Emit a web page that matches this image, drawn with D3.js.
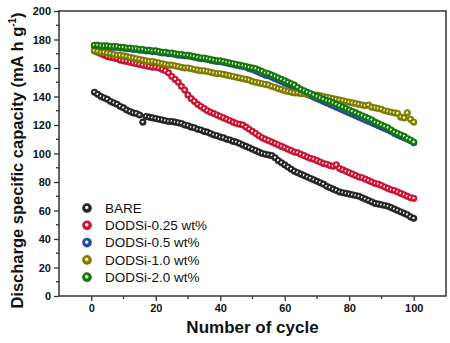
<!DOCTYPE html>
<html>
<head>
<meta charset="utf-8">
<script src="https://cdn.jsdelivr.net/npm/d3@7"></script>
<style>
  body { margin: 0; background: #fff; }
  svg { display: block; font-family: "Liberation Sans", Arial, sans-serif; }
</style>
</head>
<body>
<svg></svg>
<script>
const seriesNames = ["BARE", "DODSi-0.25 wt%", "DODSi-0.5 wt%", "DODSi-1.0 wt%", "DODSi-2.0 wt%"];
const seriesColors = ["#2b2b2b", "#e5163b", "#2453b3", "#918d00", "#18880f"];

// discharge capacity for cycles 1..100
const bare = [
  143, 141.5, 140, 139, 138, 136.5, 135.5, 134.5, 133, 132,
  130.5, 129.5, 128.5, 128, 127, 122, 126, 125.5, 125, 124.5,
  124, 123.5, 123, 122.5, 122.5, 122, 121.5, 121, 120, 119.5,
  118.5, 118, 117, 116.5, 115.5, 115, 114, 113, 112.5, 111.5,
  111, 110, 109.5, 108.5, 108, 107, 106, 105, 104, 103,
  102, 101, 100, 99.5, 99, 98.5, 97, 95, 93.5, 92,
  90.5, 89, 87.5, 86.5, 85.5, 84.5, 83.5, 82.5, 81.5, 80.5,
  79.5, 78.5, 77, 76, 75, 74, 73, 72.5, 72, 71.5,
  71, 70.5, 70, 69, 68, 67, 66, 65, 64.5, 64,
  63.5, 63, 62, 61, 60, 59, 58, 57, 55.5, 54.5
];
const dodsi025 = [
  172, 171, 170, 169, 168, 167.5, 167, 166.5, 165.5, 165,
  164.5, 164, 163.5, 163, 162.5, 162, 161.5, 161, 160.5, 160.5,
  160, 159, 158, 156.5, 154, 152, 150, 147, 144.5, 141,
  138.5, 136.5, 134.5, 133, 131.5, 130, 129, 128, 127, 126,
  125, 124, 123, 122, 121, 120.5, 120, 118.5, 117, 115.5,
  114, 112.5, 111, 110, 109, 108, 107, 106, 105, 104,
  103, 102, 101, 100.5, 99.5, 98.5, 97.5, 96.5, 96, 95,
  94, 93, 92.5, 91.5, 91, 92, 89.5, 88.5, 87.5, 86.5,
  85.5, 84.5, 83.5, 83, 82, 81, 80, 79, 78.5, 77.5,
  76.5, 75.5, 74.5, 74, 73, 72, 71, 70, 69, 68.5
];
const dodsi05 = [
  175.5, 175.5, 175, 175, 175, 174.5, 174.5, 174.5, 174, 174,
  173.5, 173.5, 173, 173, 172.5, 172.5, 172, 172, 171.5, 171.5,
  171, 170.5, 170.5, 170, 170, 169.5, 169, 169, 168.5, 168.5,
  168, 167.5, 167, 166.5, 166.5, 166, 165.5, 165, 164.5, 164.5,
  164, 163.5, 163, 162.5, 162, 161.5, 161, 160.5, 159.5, 159,
  158, 157, 156, 155, 154.5, 153.5, 152.5, 151.5, 150.5, 149.5,
  148.5, 147.5, 146.5, 145, 143.5, 142.5, 141.5, 140.5, 139.5, 138.5,
  137.5, 136.5, 135.5, 134.5, 133.5, 132.5, 131.5, 130.5, 129.5, 128.5,
  127.5, 126.5, 125.5, 124.5, 123.5, 122.5, 121.5, 120.5, 119.5, 118.5,
  117.5, 116.5, 115.5, 114, 113, 112, 111, 110, 109, 107.5
];
const dodsi10 = [
  172, 171.5, 171, 171, 170.5, 170, 169.5, 169, 169, 168.5,
  168, 167.5, 167, 166.5, 166, 165.5, 165, 164.5, 164.5, 164,
  163.5, 163, 162.5, 162, 162, 161.5, 161, 160.5, 160, 160,
  159.5, 159, 158.5, 158, 158, 157.5, 157, 156.5, 156, 156,
  155.5, 155, 154.5, 154, 153.5, 153, 152.5, 152, 151.5, 150.5,
  150, 149.5, 149, 148.5, 148, 147, 146.5, 145.5, 145, 144,
  143.5, 143, 142.5, 142.5, 142, 142, 141.5, 141.5, 141, 141,
  140.5, 140, 139.5, 139, 138.5, 138, 137.5, 137, 136.5, 136,
  135.5, 135, 134.5, 134, 133.5, 134, 132.5, 132, 131.5, 131,
  130, 129.5, 129, 128.5, 128, 125.5, 125, 128.5, 124, 122
];
const dodsi20 = [
  176, 176, 175.5, 175.5, 175.5, 175, 175, 175, 174.5, 174.5,
  174, 174, 173.5, 173.5, 173, 173, 172.5, 172.5, 172, 172,
  171.5, 171, 171, 170.5, 170.5, 170, 169.5, 169.5, 169, 169,
  168.5, 168, 167.5, 167, 167, 166.5, 166, 165.5, 165, 165,
  164.5, 164, 163.5, 163, 162.5, 162, 161.5, 161, 160.5, 160,
  159.5, 158.5, 157.5, 156.5, 156, 155, 154, 153, 152, 151,
  150, 149, 148, 146.5, 145, 144, 143, 142, 141, 140,
  139, 138, 137, 136.5, 135.5, 134.5, 133.5, 132.5, 131.5, 130.5,
  129.5, 128.5, 127.5, 126.5, 125.5, 124.5, 123.5, 122, 121, 120,
  119, 118, 116.5, 115, 114, 113, 112, 110.5, 109.5, 108
];
const seriesValues = [bare, dodsi025, dodsi05, dodsi10, dodsi20];

const xTicks = [0, 20, 40, 60, 80, 100];
const yTicks = [0, 20, 40, 60, 80, 100, 120, 140, 160, 180, 200];

const width = 450, height = 343,
      margin = { top: 11, right: 4, bottom: 47, left: 59 };

const x = d3.scaleLinear()
    .domain([-10, 110])
    .range([margin.left, width - margin.right]);

const y = d3.scaleLinear()
    .domain([0, 200])
    .range([height - margin.bottom, margin.top]);

const svg = d3.select("svg")
    .attr("width", width)
    .attr("height", height)
    .attr("viewBox", [0, 0, width, height]);

// sphere-like shading for the markers
const defs = svg.append("defs");
seriesColors.forEach((c, i) => {
  const g = defs.append("radialGradient")
      .attr("id", "ball" + i)
      .attr("cx", "50%").attr("cy", "50%").attr("r", "50%")
      .attr("fx", "45%").attr("fy", "42%");
  g.append("stop").attr("offset", "0%").attr("stop-color", "#fff");
  g.append("stop").attr("offset", "22%").attr("stop-color", "#fff").attr("stop-opacity", 0.95);
  g.append("stop").attr("offset", "45%").attr("stop-color", c);
  g.append("stop").attr("offset", "100%").attr("stop-color", d3.color(c).darker(0.7));
});

const axisColor = "#333";

// minor ticks
const xMinor = d3.range(10, 100, 20);
const yMinor = d3.range(10, 200, 20);

const xAxis = d3.axisBottom(x).tickValues(xTicks).tickSize(5).tickSizeOuter(0).tickPadding(3);
const yAxis = d3.axisLeft(y).tickValues(yTicks).tickSize(5).tickSizeOuter(0).tickPadding(3);

const gx = svg.append("g")
    .attr("transform", `translate(0,${height - margin.bottom})`)
    .call(xAxis);
gx.selectAll(".minor").data(xMinor).join("line")
    .attr("x1", d => x(d)).attr("x2", d => x(d))
    .attr("y1", 0).attr("y2", 3);

const gy = svg.append("g")
    .attr("transform", `translate(${margin.left},0)`)
    .call(yAxis);
gy.selectAll(".minor").data(yMinor).join("line")
    .attr("x1", 0).attr("x2", -3)
    .attr("y1", d => y(d)).attr("y2", d => y(d));

[gx, gy].forEach(g => {
  g.select(".domain").remove();
  g.selectAll("line").attr("stroke", axisColor).attr("stroke-width", 1.3);
  g.selectAll("text")
      .attr("fill", "#111")
      .attr("font-size", 11)
      .attr("font-weight", "bold")
      .attr("font-family", "'Liberation Sans', Arial, sans-serif");
});

// frame
svg.append("rect")
    .attr("x", margin.left)
    .attr("y", margin.top)
    .attr("width", width - margin.left - margin.right)
    .attr("height", height - margin.top - margin.bottom)
    .attr("fill", "none")
    .attr("stroke", axisColor)
    .attr("stroke-width", 1.5);

// series
seriesValues.forEach((vals, i) => {
  svg.append("g")
    .selectAll("circle")
    .data(vals)
    .join("circle")
      .attr("cx", (d, j) => x(j + 1))
      .attr("cy", d => y(d))
      .attr("r", 3.3)
      .attr("fill", `url(#ball${i})`)
      .attr("stroke", d3.color(seriesColors[i]).darker(0.4))
      .attr("stroke-width", 0.5);
});

// legend
const legend = svg.append("g")
    .attr("transform", "translate(87,208)");
const item = legend.selectAll("g")
    .data(seriesNames)
    .join("g")
      .attr("transform", (d, i) => `translate(0,${i * 17.3})`);
item.append("circle")
    .attr("r", 4.6)
    .attr("fill", (d, i) => `url(#ball${i})`)
    .attr("stroke", (d, i) => d3.color(seriesColors[i]).darker(0.4))
    .attr("stroke-width", 0.5);
item.append("text")
    .attr("x", 18)
    .attr("dy", "0.36em")
    .attr("font-size", 13.5)
    .attr("fill", "#111")
    .text(d => d);

// axis titles
svg.append("text")
    .attr("x", (margin.left + width - margin.right) / 2)
    .attr("y", 333)
    .attr("text-anchor", "middle")
    .attr("font-size", 17)
    .attr("font-weight", "bold")
    .attr("fill", "#111")
    .text("Number of cycle");

const yTitle = svg.append("text")
    .attr("transform", `translate(23,${(margin.top + height - margin.bottom) / 2 + 7}) rotate(-90)`)
    .attr("text-anchor", "middle")
    .attr("font-size", 16.5)
    .attr("font-weight", "bold")
    .attr("fill", "#111");
yTitle.append("tspan").text("Discharge specific capacity (mA h g");
yTitle.append("tspan").attr("font-size", 10).attr("dy", -7).text("-1");
yTitle.append("tspan").attr("dy", 7).text(")");
</script>
</body>
</html>
